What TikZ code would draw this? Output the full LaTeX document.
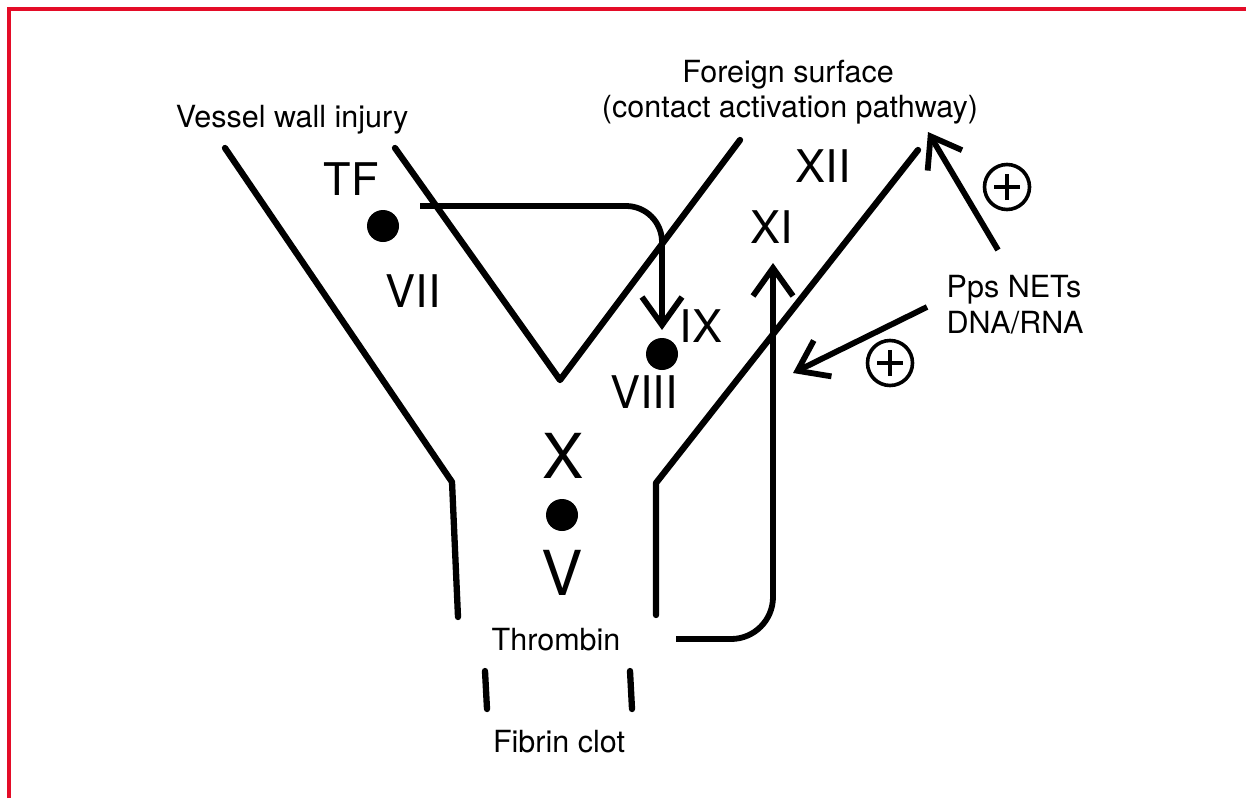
\documentclass[tikz,border=0pt]{standalone}
\usepackage{fontspec}
\setmainfont{TeX Gyre Heros}
\usetikzlibrary{arrows.meta}
\definecolor{frame}{RGB}{228,12,40}
\tikzset{
  wall/.style={line width=6.3pt, line cap=round, line join=round},
  arr/.style={line width=5.8pt, -{Straight Barb[length=28pt,width=40pt,line width=5.8pt]}},
  lbl/.style={inner sep=0pt, anchor=base, font=\fontsize{30.5}{36}\selectfont},
  fac/.style={inner sep=0pt, anchor=base, font=\fontsize{45}{50}\selectfont},
  bigfac/.style={inner sep=0pt, anchor=base, font=\fontsize{62}{70}\selectfont},
  dot/.style={circle, fill=black, inner sep=0pt, minimum size=32pt},
  plussign/.style={circle, draw, line width=3.6pt, inner sep=0pt, minimum size=45pt,
    path picture={\draw[line width=3.6pt] ([xshift=-13pt]path picture bounding box.center) -- ([xshift=13pt]path picture bounding box.center);
                  \draw[line width=3.6pt] ([yshift=-13pt]path picture bounding box.center) -- ([yshift=13pt]path picture bounding box.center);}}
}
\begin{document}
\begin{tikzpicture}[x=1pt,y=-1pt]
\useasboundingbox (0,0) rectangle (1246,798);
% frame
\draw[frame, line width=3.5pt] (9,798) -- (9,9) -- (1246,9);

% vessel walls
\coordinate (lo1) at (225,148);
\coordinate (lo2) at (452,482);
\coordinate (lo3) at (458,617);
\draw[wall] (lo1) -- (lo2) -- (lo3);
\coordinate (vi1) at (395,148);
\coordinate (vi2) at (560,380);
\coordinate (vi3) at (740,140);
\draw[wall] (vi1) -- (vi2) -- (vi3);
\coordinate (ro1) at (918,150);
\coordinate (ro2) at (656,483);
\coordinate (ro3) at (656,615);
\draw[wall] (ro1) -- (ro2) -- (ro3);
\coordinate (fl1) at (485,671);
\coordinate (fl2) at (487,709);
\coordinate (fr1) at (630,671);
\coordinate (fr2) at (632,709);
\draw[wall] (fl1) -- (fl2);
\draw[wall] (fr1) -- (fr2);

% texts
\node[lbl] (vwi) at (292,127) {Vessel wall injury};
\node[lbl] (fs1) at (788,82) {Foreign surface};
\node[lbl] (fs2) at (790,117) {(contact activation pathway)};
\node[lbl] (pps) at (1014,297) {Pps NETs};
\node[lbl] (dna) at (1015,333) {DNA/RNA};
\node[lbl] (thr) at (556,650) {Thrombin};
\node[lbl] (fib) at (559,752) {Fibrin clot};

% factors
\node[fac] (tf) at (351,195) {TF};
\node[dot] (tfdot) at (383,226) {};
\node[fac] (vii) at (413,307) {VII};
\node[fac] (ix) at (701,342) {IX};
\node[dot] (viiidot) at (662,354) {};
\node[fac] (viii) at (644,408) {VIII};
\node[fac] (xii) at (823,182) {XII};
\node[fac] (xi) at (772,243) {XI};
\node[bigfac] (x) at (563,478) {X};
\node[dot] (xdot) at (562,515) {};
\node[bigfac] (v) at (562,595) {V};

% arrows
\coordinate (tfs) at (420,206);
\coordinate (ixtip) at (662,330);
\draw[arr, rounded corners=36pt] (tfs) -| (ixtip);
\coordinate (ths) at (676,639);
\coordinate (xitip) at (773,263);
\draw[arr, rounded corners=42pt] (ths) -| (xitip);
\coordinate (pa1) at (998,250);
\coordinate (pa1t) at (928,132);
\draw[arr] (pa1) -- (pa1t);
\coordinate (pa2) at (927,307);
\coordinate (pa2t) at (793,373);
\draw[arr] (pa2) -- (pa2t);

% plus signs
\node[plussign] (plus1) at (1007,187) {};
\node[plussign] (plus2) at (890,363) {};
\end{tikzpicture}
\end{document}
